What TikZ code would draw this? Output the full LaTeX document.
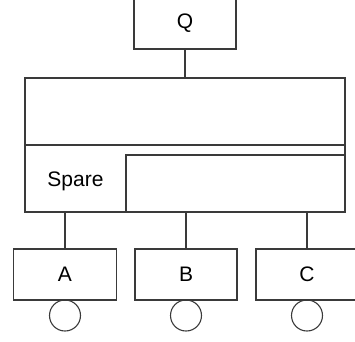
\documentclass[tikz,border=0pt]{standalone}
\usepackage{fontspec}
\setmainfont{Liberation Sans}
\definecolor{ln}{HTML}{3A3A3A}
\begin{document}
\begin{tikzpicture}[x=1pt,y=-1pt,
  box/.style={draw=ln,line width=1.1pt,rectangle,inner sep=0pt,font=\fontsize{21}{24}\selectfont},
  conn/.style={draw=ln,line width=1.1pt},
  ball/.style={draw=ln,line width=1.1pt,circle,inner sep=0pt,minimum size=31pt}]
\useasboundingbox (0,0) rectangle (355,341);
\clip (0,0) rectangle (355,341);
\node[box,minimum width=102pt,minimum height=52pt] (Q) at (185,23) {Q};
\node[box,minimum width=320pt,minimum height=134pt] (sys) at (185,145) {};
\draw[conn] (sys.west |- 0,145) coordinate (dl) -- (sys.east |- 0,145) coordinate (dr);
\node[box,minimum width=219pt,minimum height=57pt] (inner) at (235.5,183.5) {};
\node[font=\fontsize{21}{24}\selectfont,inner sep=0pt] (spare) at (75.5,181) {Spare};
\node[box,minimum width=103pt,minimum height=51pt] (A) at (65,274.5) {\raisebox{-1pt}{A}};
\node[box,minimum width=102pt,minimum height=51pt] (B) at (186,274.5) {\raisebox{-1pt}{B}};
\node[box,minimum width=102pt,minimum height=51pt] (C) at (307,274.5) {\raisebox{-1pt}{C}};
\node[ball] (ca) at (65,315.5) {};
\node[ball] (cb) at (186,315.5) {};
\node[ball] (cc) at (307,315.5) {};
\draw[conn] (Q.south) -- (sys.north -| Q.south);
\draw[conn] (sys.south -| A.north) -- (A.north);
\draw[conn] (sys.south -| B.north) -- (B.north);
\draw[conn] (sys.south -| C.north) -- (C.north);
\end{tikzpicture}
\end{document}
